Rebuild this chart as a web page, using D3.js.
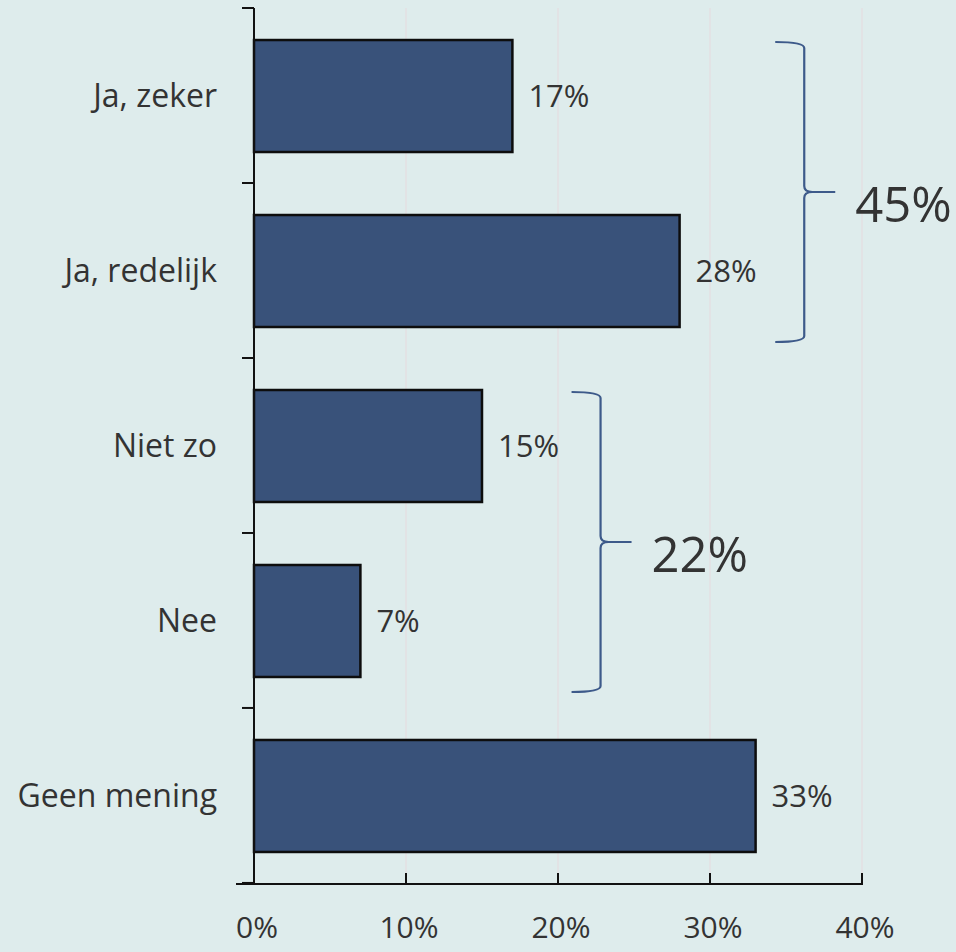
<!DOCTYPE html>
<html><head><meta charset="utf-8">
<script src="https://cdn.jsdelivr.net/npm/d3@7"></script>
<style>
html,body{margin:0;padding:0;background:#deecec;}
svg{display:block;}
text{font-family:"Open Sans","Noto Sans",sans-serif;fill:#333;}
</style></head><body>
<svg id="c" width="956" height="952"></svg>
<script>
const categories = ["Ja, zeker", "Ja, redelijk", "Niet zo", "Nee", "Geen mening"];
const values = [17, 28, 15, 7, 33];
const valueLabels = ["17%", "28%", "15%", "7%", "33%"];
const xTicks = [0, 10, 20, 30, 40];
const xTickLabels = ["0%", "10%", "20%", "30%", "40%"];
const groupFrom = ["Ja, zeker", "Niet zo"];
const groupTo = ["Ja, redelijk", "Nee"];
const groupLabels = ["45%", "22%"];

const svg = d3.select("#c");
const x = d3.scaleLinear().domain([0, 40]).range([254, 862]);
const y = d3.scaleBand().domain(categories).range([8, 884]).paddingInner(0.36).paddingOuter(0.183);

// gridlines
svg.append("g").selectAll("line").data(xTicks.slice(1)).join("line")
  .attr("x1", d => x(d)).attr("x2", d => x(d))
  .attr("y1", 8).attr("y2", 884)
  .attr("stroke", "#e3e0e3").attr("stroke-width", 1.5);

// bars
svg.append("g").selectAll("rect").data(categories).join("rect")
  .attr("x", x(0)).attr("y", d => y(d))
  .attr("width", (d, i) => x(values[i]) - x(0))
  .attr("height", y.bandwidth())
  .attr("fill", "#39527a").attr("stroke", "#0d0d0d").attr("stroke-width", 2.5);

// value labels
svg.append("g").selectAll("text").data(categories).join("text")
  .attr("x", (d, i) => x(values[i]) + 16)
  .attr("y", d => y(d) + y.bandwidth() / 2 + 11)
  .attr("font-size", 31)
  .text((d, i) => valueLabels[i]);

// y axis
const step = y.step();
const yBounds = d3.range(categories.length + 1).map(i => 8 + i * step);
svg.append("line").attr("x1", 254).attr("x2", 254).attr("y1", 8).attr("y2", 884)
  .attr("stroke", "#111").attr("stroke-width", 2);
svg.append("g").selectAll("line").data(yBounds).join("line")
  .attr("x1", 242).attr("x2", 254).attr("y1", d => d).attr("y2", d => d)
  .attr("stroke", "#111").attr("stroke-width", 2);
svg.append("g").selectAll("text").data(categories).join("text")
  .attr("x", 217).attr("y", d => y(d) + y.bandwidth() / 2 + 11)
  .attr("text-anchor", "end").attr("font-size", 32)
  .text(d => d);

// x axis
svg.append("line").attr("x1", 236).attr("x2", 863).attr("y1", 884).attr("y2", 884)
  .attr("stroke", "#111").attr("stroke-width", 2);
svg.append("g").selectAll("line").data(xTicks).join("line")
  .attr("x1", d => x(d)).attr("x2", d => x(d)).attr("y1", 873).attr("y2", 884)
  .attr("stroke", "#111").attr("stroke-width", 2);
svg.append("g").selectAll("text").data(xTicks).join("text")
  .attr("x", d => x(d) + 3).attr("y", 938)
  .attr("text-anchor", "middle").attr("font-size", 30)
  .text((d, i) => xTickLabels[i]);

// braces
function brace(xb, y0, y1, w, tip) {
  const ym = (y0 + y1) / 2;
  return `M${xb - w},${y0} Q${xb},${y0} ${xb},${y0 + 6} L${xb},${ym - 6} Q${xb},${ym} ${xb + 8},${ym} L${xb + tip},${ym}` +
         ` M${xb + 8},${ym} Q${xb},${ym} ${xb},${ym + 6} L${xb},${y1 - 6} Q${xb},${y1} ${xb - w},${y1}`;
}
const braceX = [x(36.2), x(22.8)];
groupFrom.forEach((f, i) => {
  const y0 = y(f) + 2;
  const y1 = y(groupTo[i]) + y.bandwidth() + 15;
  svg.append("path").attr("d", brace(braceX[i], y0, y1, 29, 31))
    .attr("fill", "none").attr("stroke", "#3d5a8a").attr("stroke-width", 2.2);
  svg.append("text").attr("x", braceX[i] + 51).attr("y", (y0 + y1) / 2 + 30)
    .attr("font-size", 49).text(groupLabels[i]);
});
</script></body></html>
